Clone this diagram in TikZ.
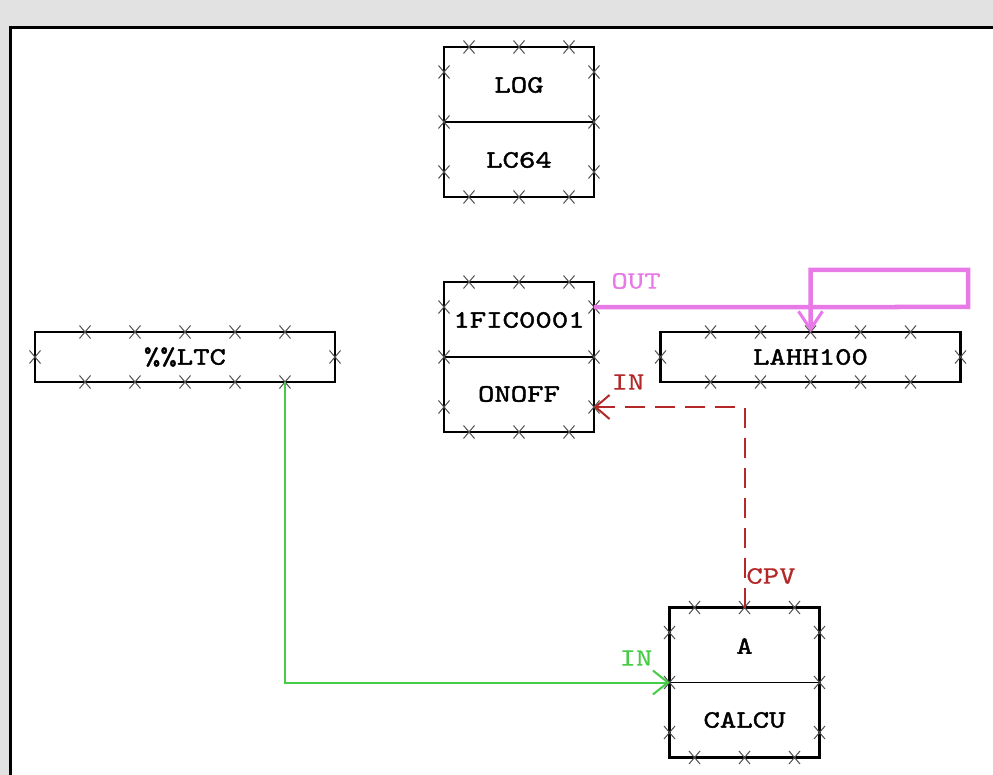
\documentclass[tikz,border=0pt]{standalone}
\usepackage{fontspec}
\newfontfamily\boxfont{lmmono10-regular.otf}[FakeBold=1.6,FakeStretch=1.25]
\newfontfamily\portfont{lmmono10-regular.otf}[FakeBold=0.6,FakeStretch=1.25]
\usetikzlibrary{arrows.meta,calc}
\definecolor{pinkc}{RGB}{232,122,232}
\definecolor{redc}{RGB}{180,40,40}
\definecolor{greenc}{RGB}{70,205,70}
\definecolor{bgc}{RGB}{226,226,226}
\definecolor{tickc}{RGB}{80,80,80}
\tikzset{
  tallbox/.style={draw=black,line width=2.2pt,minimum width=150pt,minimum height=150pt,inner sep=0pt,outer sep=0pt,fill=white},
  widebox/.style={draw=black,line width=2.2pt,minimum width=300pt,minimum height=50pt,inner sep=0pt,outer sep=0pt,fill=white},
  boxtext/.style={font=\boxfont\fontsize{25}{25}\selectfont,inner sep=0pt},
  porttext/.style={font=\portfont\fontsize{25}{25}\selectfont,inner sep=0pt},
  divider/.style={line width=1.2pt},
  tk/.pic={\draw[tickc,line width=1pt] (-5.5,-6.5)--(5.5,6.5) (-5.5,6.5)--(5.5,-6.5);},
  pinkline/.style={draw=pinkc,line width=4.5pt,-{Straight Barb[length=18pt,width=24pt,line width=3pt]}},
  redline/.style={draw=redc,line width=2pt,dash pattern=on 20pt off 10pt,-{Straight Barb[length=14pt,width=24pt,line width=2pt]}},
  greenline/.style={draw=greenc,line width=2pt,-{Straight Barb[length=15pt,width=24pt,line width=2pt]}},
}
\newcommand\tallticks[1]{%
  \foreach \f in {0.1667,0.5,0.8333}{%
    \pic at ($(#1.north west)!\f!(#1.north east)$) {tk};
    \pic at ($(#1.south west)!\f!(#1.south east)$) {tk};
    \pic at ($(#1.north west)!\f!(#1.south west)$) {tk};
    \pic at ($(#1.north east)!\f!(#1.south east)$) {tk};
  }}
\newcommand\wideticks[1]{%
  \foreach \f in {0.1667,0.3333,0.5,0.6667,0.8333}{%
    \pic at ($(#1.north west)!\f!(#1.north east)$) {tk};
    \pic at ($(#1.south west)!\f!(#1.south east)$) {tk};
  }
  \pic at (#1.west) {tk};
  \pic at (#1.east) {tk};}
\begin{document}
\begin{tikzpicture}[x=1pt,y=-1pt]
\useasboundingbox (0,0) rectangle (993,775);
\fill[bgc] (0,0) rectangle (993,775);
\fill[white] (10,28) rectangle (993,775);
\draw[line width=3pt] (10,775) -- (10,28) -- (993,28);

% blocks
\node[tallbox] (log) at (519,122) {};
\draw[divider] (log.west) -- (log.east);
\node[boxtext] (logT) at (519,85) {LOG};
\node[boxtext] (logB) at (519,160) {LC64};
\tallticks{log}

\node[tallbox] (fic) at (519,357) {};
\draw[divider] (fic.west) -- (fic.east);
\node[boxtext] (ficT) at (519,320) {1FIC0001};
\node[boxtext] (ficB) at (519,394) {ONOFF};
\tallticks{fic}

\node[widebox] (ltc) at (185,357) {};
\node[boxtext] (ltcT) at (185,357) {\%\%LTC};
\wideticks{ltc}

\node[widebox] (lahh) at (810.5,357) {};
\node[boxtext] (lahhT) at (810.5,357) {LAHH100};
\wideticks{lahh}

\node[tallbox] (calc) at (744.5,682.5) {};
\draw[divider] (calc.west) -- (calc.east);
\node[boxtext] (calcT) at (744.5,646) {A};
\node[boxtext] (calcB) at (744.5,720) {CALCU};
\tallticks{calc}

% ports
\coordinate (ficOut) at ($(fic.north east)!0.1667!(fic.south east)$);
\coordinate (ficIn) at ($(fic.north east)!0.8333!(fic.south east)$);
\coordinate (ltcOut) at ($(ltc.south west)!0.8333!(ltc.south east)$);
\coordinate (pA) at (968,307);
\coordinate (pB) at (968,270);
\coordinate (pC) at (810.5,270);

% connectors
\draw[pinkline] (ficOut) -- (pA) -- (pB) -- (pC) -- (lahh.north);
\draw[redline] (calc.north) |- (ficIn);
\draw[greenline] (ltcOut) |- (calc.west);

% labels
\node[porttext,text=pinkc] (outL) at (636,281) {OUT};
\node[porttext,text=redc] (inR) at (628,382) {IN};
\node[porttext,text=redc] (cpvL) at (771,576) {CPV};
\node[porttext,text=greenc] (inG) at (636,658) {IN};
\end{tikzpicture}
\end{document}
